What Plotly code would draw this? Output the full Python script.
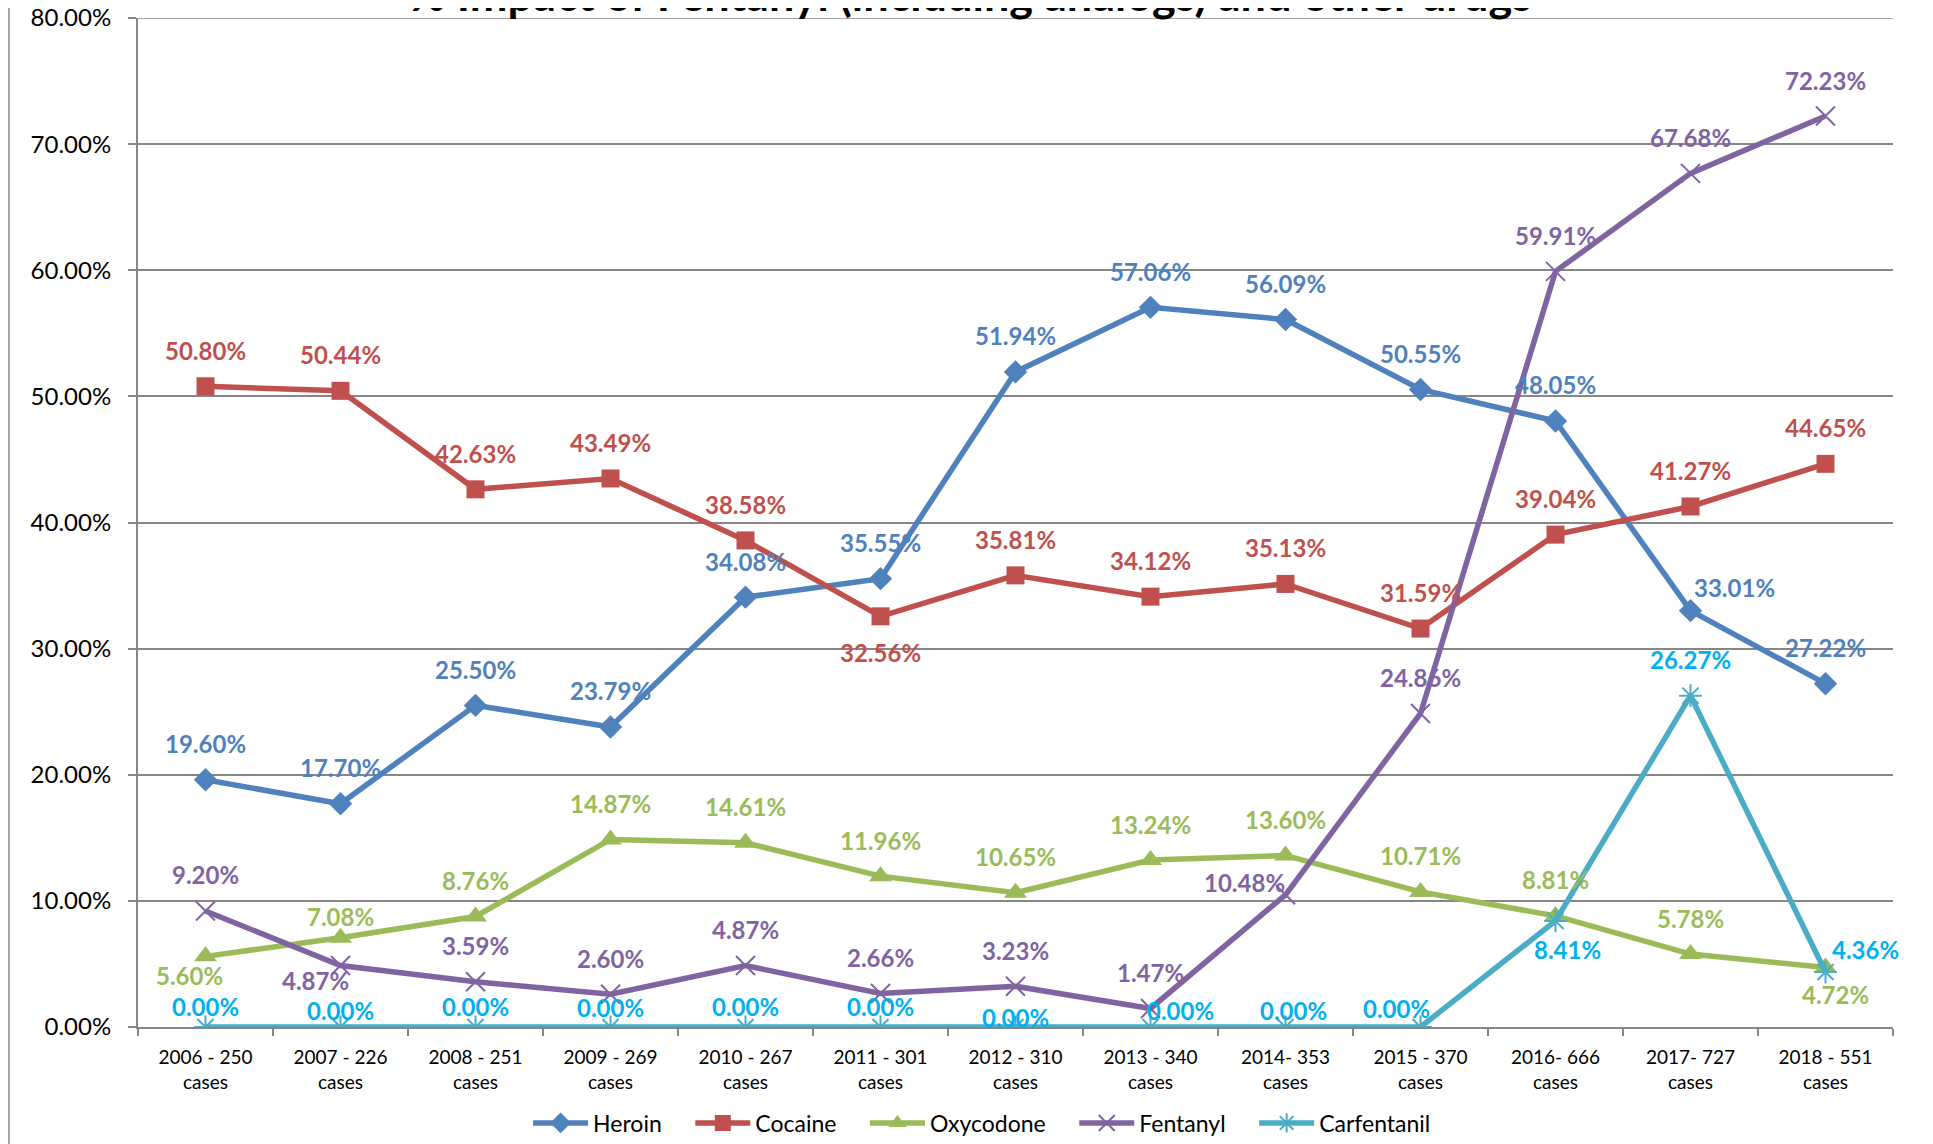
import plotly.graph_objects as go

# Data (percent of cases)
years = ["2006 - 250", "2007 - 226", "2008 - 251", "2009 - 269", "2010 - 267",
         "2011 - 301", "2012 - 310", "2013 - 340", "2014- 353", "2015 - 370",
         "2016- 666", "2017- 727", "2018 - 551"]
categories = [y + "<br>cases" for y in years]

heroin = [19.60, 17.70, 25.50, 23.79, 34.08, 35.55, 51.94, 57.06, 56.09, 50.55, 48.05, 33.01, 27.22]
cocaine = [50.80, 50.44, 42.63, 43.49, 38.58, 32.56, 35.81, 34.12, 35.13, 31.59, 39.04, 41.27, 44.65]
oxycodone = [5.60, 7.08, 8.76, 14.87, 14.61, 11.96, 10.65, 13.24, 13.60, 10.71, 8.81, 5.78, 4.72]
fentanyl = [9.20, 4.87, 3.59, 2.60, 4.87, 2.66, 3.23, 1.47, 10.48, 24.86, 59.91, 67.68, 72.23]
carfentanil = [0, 0, 0, 0, 0, 0, 0, 0, 0, 0, 8.41, 26.27, 4.36]

Y_MAX = 80

# series styling: name, values, line colour, label colour, marker symbol, marker size
series = [
    ("Heroin", heroin, "#4F81BD", "#4F81BD", "diamond", 18),
    ("Cocaine", cocaine, "#C0504D", "#C0504D", "square", 18),
    ("Oxycodone", oxycodone, "#9BBB59", "#9BBB59", "triangle-up", 20),
    ("Fentanyl", fentanyl, "#8064A2", "#8064A2", "x-thin-open", 19),
    ("Carfentanil", carfentanil, "#4BACC6", "#00B0F0", "asterisk-open", 19),
]

# label offsets (px) from the marker, default is straight above
label_offsets = {
    "Heroin": {11: (44, 23)},
    "Cocaine": {5: (0, -36)},
    "Oxycodone": {0: (-16, -19), 1: (0, 21), 12: (10, -27)},
    "Fentanyl": {1: (-25, -15), 8: (-41, 12)},
    "Carfentanil": {0: (0, 21), 1: (0, 17), 2: (0, 21), 3: (0, 20), 4: (0, 21), 5: (0, 21),
                    6: (0, 10), 7: (30, 17), 8: (8, 17), 9: (-24, 19), 10: (12, -29),
                    12: (40, 23)},
}

FONT = "Lato, Liberation Sans, Arial, sans-serif"
GRID = "#868686"
PAD = "\u00a0" * 4  # extra room between legend entries

fig = go.Figure()
annotations = []
for name, vals, color, lab_color, symbol, msize in series:
    mline = dict(width=2, color=color) if "open" in symbol else dict(width=0)
    fig.add_trace(go.Scatter(
        x=categories, y=vals, name=name + PAD, mode="lines+markers",
        line=dict(color=color, width=5.5),
        marker=dict(symbol=symbol, size=msize, color=color, line=mline),
    ))
    offs = label_offsets.get(name, {})
    for i, v in enumerate(vals):
        dx, dy = offs.get(i, (0, 36))
        annotations.append(dict(
            x=categories[i], y=v, xref="x", yref="y", text=f"{v:.2f}%",
            showarrow=False, xanchor="center", yanchor="middle",
            xshift=dx, yshift=dy,
            font=dict(family=FONT, size=24, color=lab_color, weight="bold"),
        ))

# page has an 8px body margin, so the figure is a bit smaller than the window
W, H = 1925, 1136

fig.update_layout(
    width=W, height=H,
    margin=dict(l=130, r=40, t=10, b=117, autoexpand=False),
    paper_bgcolor="white", plot_bgcolor="white",
    font=dict(family=FONT, color="black"),
    title=dict(text="<b>% Impact of Fentanyl (including analogs) and other drugs</b>",
               x=0.5, xref="container", xanchor="center",
               y=1 - 3 / H, yref="container", yanchor="bottom",
               font=dict(size=45, family=FONT, color="black")),
    annotations=annotations,
    showlegend=True,
    legend=dict(orientation="h", x=0.512, xref="container", xanchor="center",
                y=21 / H, yref="container", yanchor="middle", itemwidth=55,
                font=dict(size=23, family=FONT), bgcolor="rgba(0,0,0,0)"),
    shapes=[
        # chart-area border (left / right) and the top gridline
        dict(type="line", xref="paper", yref="paper", x0=-0.0735, x1=-0.0735, y0=-0.2, y1=1.1,
             line=dict(color=GRID, width=1.5)),
        dict(type="line", xref="paper", yref="paper", x0=1.0205, x1=1.0205, y0=-0.2, y1=1.1,
             line=dict(color=GRID, width=1.5)),
        dict(type="line", xref="paper", yref="y", x0=0, x1=1, y0=Y_MAX, y1=Y_MAX,
             line=dict(color=GRID, width=1.5), layer="below"),
    ],
)

fig.update_xaxes(
    type="category", range=[-0.5, len(categories) - 0.5], automargin=False,
    showline=True, linecolor=GRID, linewidth=2,
    ticks="outside", tickson="boundaries", ticklen=7, tickcolor=GRID, tickwidth=1.5,
    showgrid=False, tickfont=dict(size=19, family=FONT), ticklabelstandoff=12,
)
fig.update_yaxes(
    range=[0, Y_MAX], dtick=10, tickformat=".2f", ticksuffix="%", automargin=False,
    showline=True, linecolor=GRID, linewidth=2, ticklabeloverflow="allow",
    ticks="outside", ticklen=8, tickcolor=GRID, tickwidth=1.5,
    showgrid=True, gridcolor=GRID, gridwidth=1.5, zeroline=False,
    tickfont=dict(size=24, family=FONT), ticklabelstandoff=12,
)

fig.write_html("out.html")
